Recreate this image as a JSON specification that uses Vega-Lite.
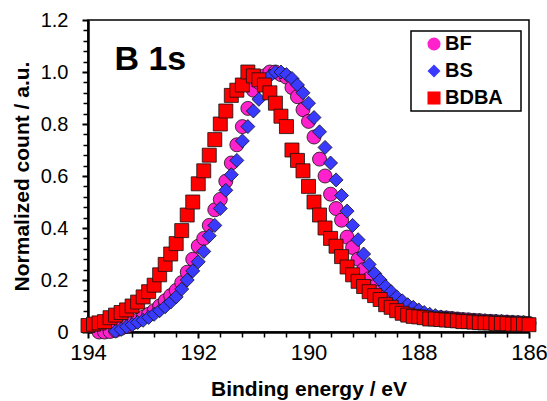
{
  "$schema": "https://vega.github.io/schema/vega-lite/v6.json",
  "width": 441,
  "height": 312,
  "autosize": {"type": "none"},
  "padding": {"left": 88, "top": 20, "right": 18, "bottom": 69},
  "background": "white",
  "config": {
    "font": "Liberation Sans",
    "view": {"stroke": "black", "strokeWidth": 1.5},
    "legend": {
      "orient": "none",
      "legendX": 323,
      "legendY": 11,
      "strokeColor": "black",
      "strokeWidth": 1.5,
      "fillColor": "white",
      "padding": 3,
      "symbolOffset": 10,
      "labelFont": "Liberation Sans",
      "labelFontSize": 20,
      "labelFontWeight": "bold",
      "labelColor": "black",
      "labelOffset": 1,
      "symbolSize": 170,
      "symbolOpacity": 1,
      "symbolStrokeColor": "#111",
      "symbolStrokeWidth": 0.8,
      "rowPadding": 7
    }
  },
  "datasets": {
    "xps": [
      {"s":"BF","e":193.8,"v":0.0},{"s":"BF","e":193.7,"v":0.0},{"s":"BF","e":193.6,"v":0.002},{"s":"BF","e":193.5,"v":0.006},{"s":"BF","e":193.4,"v":0.014},{"s":"BF","e":193.3,"v":0.022},{"s":"BF","e":193.2,"v":0.035},{"s":"BF","e":193.1,"v":0.045},{"s":"BF","e":193.0,"v":0.057},{"s":"BF","e":192.9,"v":0.068},{"s":"BF","e":192.8,"v":0.082},{"s":"BF","e":192.7,"v":0.10},{"s":"BF","e":192.6,"v":0.12},{"s":"BF","e":192.5,"v":0.14},{"s":"BF","e":192.4,"v":0.16},{"s":"BF","e":192.3,"v":0.19},{"s":"BF","e":192.2,"v":0.23},{"s":"BF","e":192.1,"v":0.28},{"s":"BF","e":192.0,"v":0.33},{"s":"BF","e":191.9,"v":0.36},{"s":"BF","e":191.8,"v":0.41},{"s":"BF","e":191.7,"v":0.47},{"s":"BF","e":191.6,"v":0.51},{"s":"BF","e":191.5,"v":0.58},{"s":"BF","e":191.4,"v":0.65},{"s":"BF","e":191.3,"v":0.72},{"s":"BF","e":191.2,"v":0.79},{"s":"BF","e":191.1,"v":0.86},{"s":"BF","e":191.0,"v":0.93},{"s":"BF","e":190.9,"v":0.96},{"s":"BF","e":190.8,"v":0.985},{"s":"BF","e":190.7,"v":1.0},{"s":"BF","e":190.6,"v":1.0},{"s":"BF","e":190.5,"v":0.99},{"s":"BF","e":190.4,"v":0.98},{"s":"BF","e":190.3,"v":0.94},{"s":"BF","e":190.2,"v":0.905},{"s":"BF","e":190.1,"v":0.855},{"s":"BF","e":190.0,"v":0.81},{"s":"BF","e":189.9,"v":0.75},{"s":"BF","e":189.8,"v":0.665},{"s":"BF","e":189.7,"v":0.60},{"s":"BF","e":189.6,"v":0.53},{"s":"BF","e":189.5,"v":0.475},{"s":"BF","e":189.4,"v":0.43},{"s":"BF","e":189.3,"v":0.365},{"s":"BF","e":189.2,"v":0.325},{"s":"BF","e":189.1,"v":0.28},{"s":"BF","e":189.0,"v":0.24},{"s":"BF","e":188.9,"v":0.205},{"s":"BF","e":188.8,"v":0.175},{"s":"BF","e":188.7,"v":0.155},{"s":"BF","e":188.6,"v":0.135},{"s":"BF","e":188.5,"v":0.115},{"s":"BF","e":188.4,"v":0.10},{"s":"BF","e":188.3,"v":0.088},{"s":"BF","e":188.2,"v":0.078},{"s":"BF","e":188.1,"v":0.07},{"s":"BF","e":188.0,"v":0.065},{"s":"BF","e":187.9,"v":0.06},{"s":"BF","e":187.8,"v":0.058},{"s":"BF","e":187.7,"v":0.056},{"s":"BF","e":187.6,"v":0.055},{"s":"BF","e":187.5,"v":0.054},{"s":"BF","e":187.4,"v":0.052},{"s":"BF","e":187.3,"v":0.05},{"s":"BF","e":187.2,"v":0.048},{"s":"BF","e":187.1,"v":0.047},{"s":"BF","e":187.0,"v":0.045},{"s":"BF","e":186.9,"v":0.044},{"s":"BF","e":186.8,"v":0.042},{"s":"BF","e":186.7,"v":0.041},{"s":"BF","e":186.6,"v":0.04},{"s":"BF","e":186.5,"v":0.039},{"s":"BF","e":186.4,"v":0.038},{"s":"BF","e":186.3,"v":0.037},{"s":"BF","e":186.2,"v":0.036},{"s":"BF","e":186.1,"v":0.035},{"s":"BF","e":186.0,"v":0.033},
      {"s":"BS","e":193.5,"v":0.003},{"s":"BS","e":193.4,"v":0.01},{"s":"BS","e":193.3,"v":0.02},{"s":"BS","e":193.2,"v":0.028},{"s":"BS","e":193.1,"v":0.037},{"s":"BS","e":193.0,"v":0.045},{"s":"BS","e":192.9,"v":0.056},{"s":"BS","e":192.8,"v":0.068},{"s":"BS","e":192.7,"v":0.082},{"s":"BS","e":192.6,"v":0.097},{"s":"BS","e":192.5,"v":0.115},{"s":"BS","e":192.4,"v":0.135},{"s":"BS","e":192.3,"v":0.165},{"s":"BS","e":192.2,"v":0.20},{"s":"BS","e":192.1,"v":0.235},{"s":"BS","e":192.0,"v":0.27},{"s":"BS","e":191.9,"v":0.31},{"s":"BS","e":191.8,"v":0.37},{"s":"BS","e":191.7,"v":0.41},{"s":"BS","e":191.6,"v":0.475},{"s":"BS","e":191.5,"v":0.545},{"s":"BS","e":191.4,"v":0.605},{"s":"BS","e":191.3,"v":0.66},{"s":"BS","e":191.2,"v":0.735},{"s":"BS","e":191.1,"v":0.79},{"s":"BS","e":191.0,"v":0.85},{"s":"BS","e":190.9,"v":0.895},{"s":"BS","e":190.8,"v":0.95},{"s":"BS","e":190.7,"v":0.985},{"s":"BS","e":190.6,"v":1.0},{"s":"BS","e":190.5,"v":1.0},{"s":"BS","e":190.4,"v":0.99},{"s":"BS","e":190.3,"v":0.975},{"s":"BS","e":190.2,"v":0.95},{"s":"BS","e":190.1,"v":0.92},{"s":"BS","e":190.0,"v":0.88},{"s":"BS","e":189.9,"v":0.825},{"s":"BS","e":189.8,"v":0.77},{"s":"BS","e":189.7,"v":0.71},{"s":"BS","e":189.6,"v":0.65},{"s":"BS","e":189.5,"v":0.585},{"s":"BS","e":189.4,"v":0.525},{"s":"BS","e":189.3,"v":0.465},{"s":"BS","e":189.2,"v":0.41},{"s":"BS","e":189.1,"v":0.355},{"s":"BS","e":189.0,"v":0.30},{"s":"BS","e":188.9,"v":0.26},{"s":"BS","e":188.8,"v":0.225},{"s":"BS","e":188.7,"v":0.20},{"s":"BS","e":188.6,"v":0.175},{"s":"BS","e":188.5,"v":0.155},{"s":"BS","e":188.4,"v":0.135},{"s":"BS","e":188.3,"v":0.12},{"s":"BS","e":188.2,"v":0.105},{"s":"BS","e":188.1,"v":0.095},{"s":"BS","e":188.0,"v":0.085},{"s":"BS","e":187.9,"v":0.075},{"s":"BS","e":187.8,"v":0.068},{"s":"BS","e":187.7,"v":0.063},{"s":"BS","e":187.6,"v":0.058},{"s":"BS","e":187.5,"v":0.055},{"s":"BS","e":187.4,"v":0.052},{"s":"BS","e":187.3,"v":0.05},{"s":"BS","e":187.2,"v":0.048},{"s":"BS","e":187.1,"v":0.046},{"s":"BS","e":187.0,"v":0.045},{"s":"BS","e":186.9,"v":0.044},{"s":"BS","e":186.8,"v":0.043},{"s":"BS","e":186.7,"v":0.042},{"s":"BS","e":186.6,"v":0.041},{"s":"BS","e":186.5,"v":0.04},{"s":"BS","e":186.4,"v":0.039},{"s":"BS","e":186.3,"v":0.038},{"s":"BS","e":186.2,"v":0.037},{"s":"BS","e":186.1,"v":0.036},{"s":"BS","e":186.0,"v":0.035},
      {"s":"BDBA","e":194.0,"v":0.025},{"s":"BDBA","e":193.9,"v":0.03},{"s":"BDBA","e":193.8,"v":0.035},{"s":"BDBA","e":193.7,"v":0.04},{"s":"BDBA","e":193.6,"v":0.055},{"s":"BDBA","e":193.5,"v":0.065},{"s":"BDBA","e":193.4,"v":0.075},{"s":"BDBA","e":193.3,"v":0.085},{"s":"BDBA","e":193.2,"v":0.10},{"s":"BDBA","e":193.1,"v":0.115},{"s":"BDBA","e":193.0,"v":0.135},{"s":"BDBA","e":192.9,"v":0.155},{"s":"BDBA","e":192.8,"v":0.18},{"s":"BDBA","e":192.7,"v":0.22},{"s":"BDBA","e":192.6,"v":0.26},{"s":"BDBA","e":192.5,"v":0.30},{"s":"BDBA","e":192.4,"v":0.34},{"s":"BDBA","e":192.3,"v":0.39},{"s":"BDBA","e":192.2,"v":0.45},{"s":"BDBA","e":192.1,"v":0.50},{"s":"BDBA","e":192.0,"v":0.57},{"s":"BDBA","e":191.9,"v":0.62},{"s":"BDBA","e":191.8,"v":0.68},{"s":"BDBA","e":191.7,"v":0.74},{"s":"BDBA","e":191.6,"v":0.80},{"s":"BDBA","e":191.5,"v":0.85},{"s":"BDBA","e":191.4,"v":0.91},{"s":"BDBA","e":191.3,"v":0.93},{"s":"BDBA","e":191.2,"v":0.95},{"s":"BDBA","e":191.1,"v":1.0},{"s":"BDBA","e":191.0,"v":0.985},{"s":"BDBA","e":190.9,"v":0.97},{"s":"BDBA","e":190.8,"v":0.95},{"s":"BDBA","e":190.7,"v":0.92},{"s":"BDBA","e":190.6,"v":0.88},{"s":"BDBA","e":190.5,"v":0.83},{"s":"BDBA","e":190.4,"v":0.79},{"s":"BDBA","e":190.3,"v":0.70},{"s":"BDBA","e":190.2,"v":0.66},{"s":"BDBA","e":190.1,"v":0.62},{"s":"BDBA","e":190.0,"v":0.56},{"s":"BDBA","e":189.9,"v":0.50},{"s":"BDBA","e":189.8,"v":0.45},{"s":"BDBA","e":189.7,"v":0.40},{"s":"BDBA","e":189.6,"v":0.36},{"s":"BDBA","e":189.5,"v":0.33},{"s":"BDBA","e":189.4,"v":0.29},{"s":"BDBA","e":189.3,"v":0.25},{"s":"BDBA","e":189.2,"v":0.22},{"s":"BDBA","e":189.1,"v":0.195},{"s":"BDBA","e":189.0,"v":0.175},{"s":"BDBA","e":188.9,"v":0.155},{"s":"BDBA","e":188.8,"v":0.14},{"s":"BDBA","e":188.7,"v":0.125},{"s":"BDBA","e":188.6,"v":0.105},{"s":"BDBA","e":188.5,"v":0.095},{"s":"BDBA","e":188.4,"v":0.082},{"s":"BDBA","e":188.3,"v":0.072},{"s":"BDBA","e":188.2,"v":0.065},{"s":"BDBA","e":188.1,"v":0.06},{"s":"BDBA","e":188.0,"v":0.058},{"s":"BDBA","e":187.9,"v":0.055},{"s":"BDBA","e":187.8,"v":0.05},{"s":"BDBA","e":187.7,"v":0.05},{"s":"BDBA","e":187.6,"v":0.048},{"s":"BDBA","e":187.5,"v":0.046},{"s":"BDBA","e":187.4,"v":0.045},{"s":"BDBA","e":187.3,"v":0.043},{"s":"BDBA","e":187.2,"v":0.04},{"s":"BDBA","e":187.1,"v":0.04},{"s":"BDBA","e":187.0,"v":0.038},{"s":"BDBA","e":186.9,"v":0.036},{"s":"BDBA","e":186.8,"v":0.035},{"s":"BDBA","e":186.7,"v":0.035},{"s":"BDBA","e":186.6,"v":0.033},{"s":"BDBA","e":186.5,"v":0.033},{"s":"BDBA","e":186.4,"v":0.032},{"s":"BDBA","e":186.3,"v":0.03},{"s":"BDBA","e":186.2,"v":0.03},{"s":"BDBA","e":186.1,"v":0.03},{"s":"BDBA","e":186.0,"v":0.028}
    ],
    "lab": [{"t": "B 1s", "e": 193.52, "v": 1.008}]
  },
  "layer": [
    {
      "data": {"name": "xps"},
      "mark": {"type": "point", "filled": true, "size": 196, "opacity": 1, "stroke": "#111", "strokeWidth": 0.8},
      "encoding": {
        "x": {
          "field": "e", "type": "quantitative",
          "scale": {"domain": [186, 194], "reverse": true, "nice": false, "zero": false},
          "axis": {
            "orient": "bottom",
            "values": [186, 188, 190, 192, 194],
            "grid": false,
            "domainColor": "black", "domainWidth": 2.5,
            "tickColor": "black", "tickWidth": 2, "tickSize": 6,
            "labelFont": "Liberation Sans", "labelFontSize": 22, "labelColor": "black",
            "labelPadding": 4, "labelFlush": false, "labelOverlap": false,
            "format": "d",
            "title": "Binding energy / eV",
            "titleFont": "Liberation Sans", "titleFontSize": 21, "titleFontWeight": "bold", "titleColor": "black",
            "titleX": 220.5, "titleY": 63, "titleBaseline": "alphabetic", "titleAlign": "center"
          }
        },
        "y": {
          "field": "v", "type": "quantitative",
          "scale": {"domain": [0, 1.2], "nice": false, "zero": false},
          "axis": {
            "orient": "left",
            "values": [0, 0.2, 0.4, 0.6, 0.8, 1.0, 1.2],
            "grid": false,
            "domainColor": "black", "domainWidth": 2.5,
            "tickColor": "black", "tickWidth": 2, "tickSize": 6,
            "labelFont": "Liberation Sans", "labelFontSize": 20, "labelColor": "black",
            "labelPadding": 14, "labelFlush": false, "labelOverlap": false,
            "labelExpr": "datum.value == 0 ? '0' : format(datum.value, '.1f')",
            "title": "Normalized count / a.u.",
            "titleFont": "Liberation Sans", "titleFontSize": 21, "titleFontWeight": "bold", "titleColor": "black",
            "titleX": -60, "titleY": 156, "titleAngle": 270, "titleBaseline": "alphabetic", "titleAlign": "center"
          }
        },
        "color": {
          "field": "s", "type": "nominal",
          "scale": {"domain": ["BF", "BS", "BDBA"], "range": ["#FF22CC", "#3A3AFF", "#FF0000"]},
          "legend": {"title": "MM", "titleOrient": "right", "titlePadding": 0, "titleFontSize": 9, "titleColor": "white"}
        },
        "shape": {
          "field": "s", "type": "nominal",
          "scale": {"domain": ["BF", "BS", "BDBA"], "range": ["circle", "diamond", "square"]},
          "legend": {"title": "MM", "titleOrient": "right", "titlePadding": 0, "titleFontSize": 9, "titleColor": "white"}
        }
      }
    },
    {
      "data": {"name": "lab"},
      "mark": {"type": "text", "align": "left", "baseline": "alphabetic", "font": "Liberation Sans", "fontSize": 34, "fontWeight": "bold", "color": "black"},
      "encoding": {
        "x": {
          "field": "e", "type": "quantitative",
          "scale": {"domain": [186, 194], "reverse": true, "nice": false, "zero": false},
          "axis": {
            "orient": "bottom",
            "values": [186.4, 186.8, 187.2, 187.6, 188.4, 188.8, 189.2, 189.6, 190.4, 190.8, 191.2, 191.6, 192.4, 192.8, 193.2, 193.6],
            "grid": false, "domain": false, "labels": false,
            "tickColor": "black", "tickWidth": 1.5, "tickSize": 5,
            "title": null
          }
        },
        "y": {
          "field": "v", "type": "quantitative",
          "scale": {"domain": [0, 1.2], "nice": false, "zero": false},
          "axis": {
            "orient": "left",
            "values": [0.04, 0.08, 0.12, 0.16, 0.24, 0.28, 0.32, 0.36, 0.44, 0.48, 0.52, 0.56, 0.64, 0.68, 0.72, 0.76, 0.84, 0.88, 0.92, 0.96, 1.04, 1.08, 1.12, 1.16],
            "grid": false, "domain": false, "labels": false,
            "tickColor": "black", "tickWidth": 1.5, "tickSize": 5,
            "title": null
          }
        },
        "text": {"field": "t"}
      }
    }
  ],
  "resolve": {"axis": {"x": "independent", "y": "independent"}}
}
